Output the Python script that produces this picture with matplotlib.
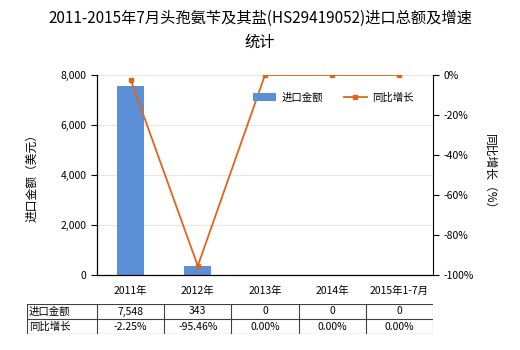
import numpy as np
import matplotlib
matplotlib.use("Agg")
import matplotlib.pyplot as plt

plt.rcParams['font.family'] = ['Noto Sans CJK SC', 'DejaVu Sans']

# data
years = ['2011年', '2012年', '2013年', '2014年', '2015年1-7月']
amount = [7548, 343, 0, 0, 0]
growth = [-2.25, -95.46, 0.0, 0.0, 0.0]
amount_txt = ['7,548', '343', '0', '0', '0']
growth_txt = ['-2.25%', '-95.46%', '0.00%', '0.00%', '0.00%']

W, H = 520, 350
fig = plt.figure(figsize=(W / 100, H / 100), dpi=100)

def box(x0, y0, x1, y1):
    return [x0 / W, 1 - y1 / H, (x1 - x0) / W, (y1 - y0) / H]

bar_c = '#5B8FD8'
line_c = '#E0651B'

ax = fig.add_axes(box(97, 75, 433, 275))
x = np.arange(len(years))
ax.bar(x, amount, width=0.4, color=bar_c, label='进口金额', zorder=2)
ax.set_xlim(-0.5, len(years) - 0.5)
ax.set_ylim(0, 8000)
ax.set_yticks([0, 2000, 4000, 6000, 8000])
ax.set_yticklabels(['0', '2,000', '4,000', '6,000', '8,000'])
ax.set_xticks(x)
ax.set_xticklabels(years)
ax.tick_params(labelsize=7.5, length=4, width=0.8, colors='black')
ax.tick_params(axis='x', length=0, pad=8)
ax.grid(axis='y', color='#e6e6e6', linewidth=0.8, zorder=0)
ax.spines['top'].set_visible(False)
ax.spines['right'].set_visible(False)
ax.set_ylabel('进口金额（美元）', fontsize=8.5, labelpad=16)

ax2 = ax.twinx()
ax2.plot(x, growth, color=line_c, linewidth=1.3, marker='s', markersize=3.5,
         label='同比增长', zorder=3)
ax2.set_ylim(-100, 0)
ax2.set_yticks([0, -20, -40, -60, -80, -100])
ax2.set_yticklabels(['0%', '-20%', '-40%', '-60%', '-80%', '-100%'])
ax2.tick_params(labelsize=7.5, length=4, width=0.8)
ax2.spines['top'].set_visible(False)
ax2.set_ylabel('同比增长（%）', fontsize=8.5, rotation=-90, labelpad=16)

h1, l1 = ax.get_legend_handles_labels()
h2, l2 = ax2.get_legend_handles_labels()
ax2.legend(h1 + h2, l1 + l2, loc='upper right', bbox_to_anchor=(0.97, 0.96),
           ncol=2, frameon=False, fontsize=7.5, handlelength=2.2,
           columnspacing=2.0, handletextpad=0.5)

fig.text(0.5, 1 - 18 / H, '2011-2015年7月头孢氨苄及其盐(HS29419052)进口总额及增速',
         ha='center', va='center', fontsize=11)
fig.text(0.5, 1 - 42 / H, '统计', ha='center', va='center', fontsize=11)

# table below the chart
tax = fig.add_axes(box(27, 304, 433, 334))
tax.set_xlim(27, 433)
tax.set_ylim(334, 304)
tax.axis('off')
cols = [27, 97] + [97 + 336 / 5 * (i + 1) for i in range(5)]
for cx in cols:
    tax.plot([cx, cx], [304, 334], color='#404040', linewidth=0.8)
for ry in [304, 319, 334]:
    tax.plot([27, 433], [ry, ry], color='#404040', linewidth=0.8)
tax.text(29, 311.5, '进口金额', fontsize=7.5, va='center', ha='left')
tax.text(29, 326.5, '同比增长', fontsize=7.5, va='center', ha='left')
for i in range(5):
    cx = (cols[i + 1] + cols[i + 2]) / 2
    tax.text(cx, 311.5, amount_txt[i], fontsize=7.5, va='center', ha='center')
    tax.text(cx, 326.5, growth_txt[i], fontsize=7.5, va='center', ha='center')

fig.savefig('out.png', dpi=100)
